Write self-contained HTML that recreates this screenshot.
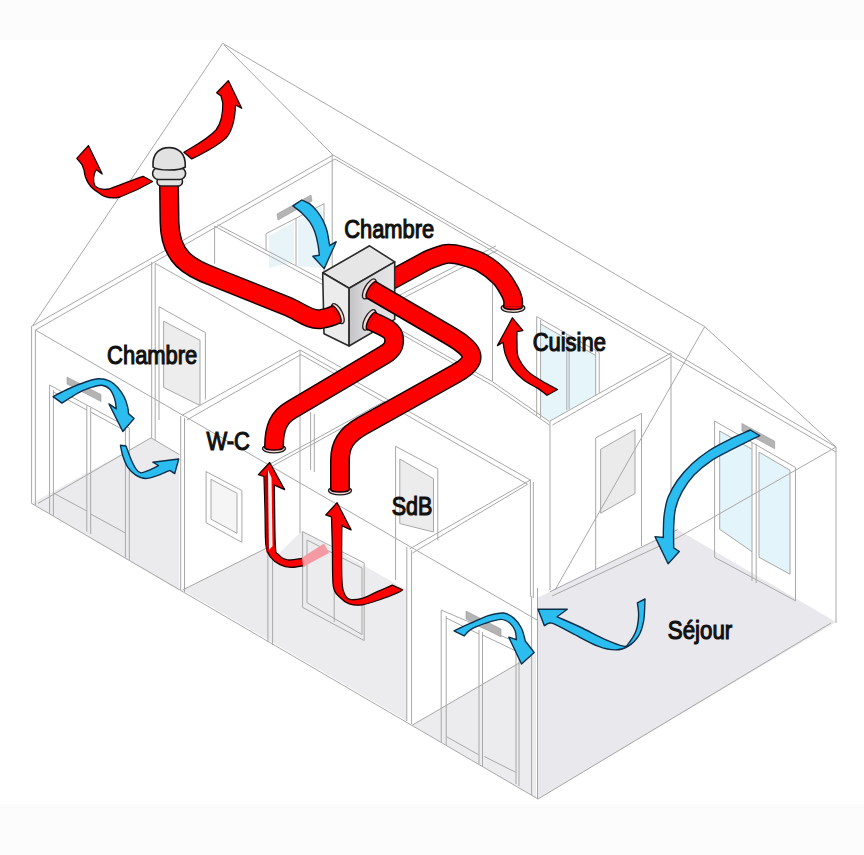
<!DOCTYPE html>
<html><head><meta charset="utf-8">
<style>
html,body{margin:0;padding:0;background:#fff;}
body{width:864px;height:855px;overflow:hidden;}
svg{display:block;}
text{font-family:"Liberation Sans",sans-serif;font-weight:normal;fill:#111;}
</style></head>
<body>
<svg width="864" height="855" viewBox="0 0 864 855">
<defs>
<linearGradient id="rf" x1="0" y1="0" x2="1" y2="0">
<stop offset="0" stop-color="#c4c4c6"/><stop offset="0.35" stop-color="#d8d8da"/><stop offset="1" stop-color="#e6e6e8"/>
</linearGradient>
</defs>
<rect x="0" y="0" width="864" height="855" fill="#ffffff"/>
<rect x="0" y="0" width="864" height="40" fill="#fcfcfc"/>
<rect x="0" y="804" width="864" height="51" fill="#fcfcfc"/>

<g stroke="none">
<path fill="#e9e8ec" d="M537.0,598.0 L549.8,591.8 L677.5,529.6 L836.0,622.0 L538.0,799.0 Z"/>
<path fill="#ebebed" d="M31.6,503.4 L151.0,437.8 L179.4,454.6 L179.4,590.8 Z"/>
<path fill="#ebebed" d="M182.6,590.0 L267.9,547.4 L272.0,549.0 L272.0,642.0 Z"/>
<path fill="#ececee" d="M272.0,560.0 L302.0,531.0 L407.0,590.0 L407.0,721.0 L272.0,642.0 Z"/>
<path fill="#ececee" d="M412.0,725.0 L520.0,662.5 L536.0,653.0 L536.0,798.0 Z"/>
<path fill="#ededee" d="M163.6,321.2 L200.0,340.2 L200.0,405.5 L163.6,387.4 Z"/>
<path fill="#ececec" d="M399.8,459.0 L433.5,478.7 L433.5,532.0 L399.8,523.6 Z"/>
<path fill="#ebebeb" d="M600.6,449.3 L635.0,429.7 L635.0,493.5 L600.6,513.2 Z"/>
<path fill="#f5f5f5" d="M211.0,479.3 L237.0,493.3 L237.0,533.3 L211.0,519.2 Z"/>
</g>
<g stroke="none">
<path fill="#e3f4fa" d="M719.7,431.0 L752.0,449.2 L752.0,551.7 L719.7,529.2 Z"/>
<path fill="#e3f4fa" d="M759.0,452.0 L790.0,470.2 L790.0,574.2 L759.0,557.3 Z"/>
<path fill="#e6f5fa" d="M540.6,324.0 L595.7,355.5 L595.7,394.7 L549.4,421.5 L540.6,415.0 Z"/>
<path fill="#e8f4f8" d="M269.0,236.0 L294.0,222.0 L294.0,262.0 L269.0,268.0 Z"/>
<path fill="#e8f4f8" d="M298.0,220.0 L322.0,206.0 L322.0,268.0 L298.0,266.0 Z"/>
</g>
<g fill="none" stroke="#a8a8a8" stroke-width="1">
<path d="M222.7,43.3 L32.5,326.0"/>
<path d="M222.7,43.3 L704.7,326.7"/>
<path d="M224.0,45.0 L333.0,155.0"/>
<path d="M704.7,326.7 L836.0,447.0"/>
<path d="M704.7,326.7 L555.0,590.0"/>
<path d="M333.0,155.0 L836.0,447.0"/>
<path d="M335.0,159.0 L836.0,452.0"/>
<path d="M32.5,326.0 L333.0,155.0"/>
<path d="M35.5,330.0 L335.0,159.0"/>
<path d="M31.6,326.0 L31.6,503.4"/>
<path d="M35.4,330.0 L35.4,505.0"/>
<path d="M31.6,503.4 L538.0,799.0"/>
<path d="M538.0,799.0 L831.0,623.0"/>
<path d="M836.0,447.0 L836.0,623.0"/>
<path d="M537.5,588.0 L537.5,799.0"/>
<path d="M531.6,596.0 L531.6,795.0"/>
<path d="M35.4,330.0 L537.0,620.0"/>
<path d="M49.6,385.0 L49.6,513.7"/>
<path d="M53.4,390.0 L53.4,516.0"/>
<path d="M86.8,405.7 L86.8,531.7"/>
<path d="M90.7,408.0 L90.7,534.0"/>
<path d="M125.4,426.0 L125.4,557.4"/>
<path d="M129.3,428.0 L129.3,560.0"/>
<path d="M49.6,385.0 L129.3,428.0"/>
<path d="M53.4,493.0 L86.8,511.0"/>
<path d="M90.7,514.0 L125.4,533.0"/>
<path d="M53.4,392.0 L86.8,410.0"/>
<path d="M90.7,412.0 L125.4,431.0"/>
<path d="M151.7,262.0 L151.7,438.0"/>
<path d="M155.2,263.4 L155.2,440.0"/>
<path d="M155.2,263.4 L341.2,367.5"/>
<path d="M38.0,503.4 L151.0,437.8"/>
<path d="M151.0,437.8 L179.4,454.6"/>
<path d="M159.0,306.7 L205.4,332.6 L205.4,399.5"/>
<path d="M159.0,306.7 L159.0,420.0"/>
<path d="M163.6,321.2 L200.0,340.2 L200.0,405.5 L163.6,387.4 L163.6,321.2"/>
<path d="M180.7,416.0 L180.7,590.0"/>
<path d="M184.5,418.0 L184.5,592.0"/>
<path d="M182.0,415.4 L300.0,350.0"/>
<path d="M186.8,420.0 L301.0,354.6"/>
<path d="M300.0,350.0 L300.0,533.0"/>
<path d="M310.6,412.0 L310.6,470.0"/>
<path d="M314.3,414.0 L314.3,472.0"/>
<path d="M206.1,471.6 L241.9,490.5 L241.9,542.4 L206.1,522.7 L206.1,471.6"/>
<path d="M211.0,479.3 L237.0,493.3 L237.0,533.3 L211.0,519.2 L211.0,479.3"/>
<path d="M267.9,466.0 L267.9,642.0"/>
<path d="M272.6,469.0 L272.6,645.0"/>
<path d="M182.6,590.0 L267.9,547.4"/>
<path d="M302.6,531.6 L364.2,563.0"/>
<path d="M302.6,531.6 L302.6,607.4"/>
<path d="M364.2,563.0 L364.2,640.5"/>
<path d="M307.0,540.0 L362.0,568.0"/>
<path d="M307.0,540.0 L307.0,602.7"/>
<path d="M362.0,568.0 L362.0,634.6"/>
<path d="M334.2,548.0 L334.2,622.0"/>
<path d="M302.6,607.4 L364.2,640.5"/>
<path d="M307.0,602.7 L362.0,634.6"/>
<path d="M406.8,547.0 L406.8,721.0"/>
<path d="M411.6,550.0 L411.6,724.0"/>
<path d="M300.0,350.0 L530.4,480.0"/>
<path d="M301.0,354.6 L527.6,484.3"/>
<path d="M530.4,480.0 L409.7,548.9"/>
<path d="M527.6,484.3 L412.5,553.0"/>
<path d="M530.4,480.0 L530.4,596.6"/>
<path d="M533.3,482.0 L533.3,598.0"/>
<path d="M270.0,464.0 L385.0,401.0"/>
<path d="M270.0,467.4 L385.0,404.4"/>
<path d="M395.6,446.3 L395.6,580.0"/>
<path d="M395.6,446.3 L437.8,468.8 L437.8,540.4"/>
<path d="M399.8,459.0 L433.5,478.7 L433.5,532.0 L399.8,523.6 L399.8,459.0"/>
<path d="M441.2,610.0 L441.2,742.5"/>
<path d="M446.2,616.0 L446.2,745.0"/>
<path d="M479.0,630.0 L479.0,764.0"/>
<path d="M482.5,632.0 L482.5,766.0"/>
<path d="M516.0,651.0 L516.0,784.0"/>
<path d="M519.0,653.0 L519.0,786.0"/>
<path d="M441.2,610.0 L520.0,643.8"/>
<path d="M446.9,736.9 L478.4,754.6"/>
<path d="M484.3,756.5 L515.8,772.3"/>
<path d="M446.2,618.0 L479.0,634.0"/>
<path d="M482.5,635.0 L516.0,651.0"/>
<path d="M412.5,725.0 L520.0,662.5"/>
<path d="M714.6,421.0 L714.6,557.3"/>
<path d="M795.5,467.4 L795.5,600.8"/>
<path d="M752.0,442.0 L752.0,581.0"/>
<path d="M756.2,444.0 L756.2,583.0"/>
<path d="M714.6,421.0 L795.5,467.4"/>
<path d="M714.6,557.3 L795.5,600.8"/>
<path d="M719.7,431.0 L752.0,449.2"/>
<path d="M719.7,431.0 L719.7,529.2"/>
<path d="M719.7,529.2 L752.0,551.7"/>
<path d="M759.0,452.0 L790.0,470.2 L790.0,574.2 L759.0,557.3 L759.0,452.0"/>
<path d="M836.0,447.0 L679.0,537.0"/>
<path d="M679.0,537.0 L552.0,596.0"/>
<path d="M671.0,353.0 L671.0,549.0"/>
<path d="M595.7,437.9 L641.5,413.3 L641.5,546.0"/>
<path d="M595.7,437.9 L595.7,568.9"/>
<path d="M600.6,449.3 L635.0,429.7 L635.0,493.5 L600.6,513.2 L600.6,449.3"/>
<path d="M549.8,591.8 L677.5,529.6"/>
<path d="M492.5,280.0 L492.5,381.0"/>
<path d="M536.7,316.6 L536.7,416.0"/>
<path d="M540.6,320.0 L540.6,418.0"/>
<path d="M566.8,334.0 L566.8,410.0"/>
<path d="M569.1,335.5 L569.1,409.0"/>
<path d="M595.7,350.0 L595.7,395.0"/>
<path d="M599.2,352.5 L599.2,393.0"/>
<path d="M536.7,316.6 L599.2,352.5"/>
<path d="M540.6,324.0 L595.7,355.5"/>
<path d="M550.0,421.0 L550.0,590.0"/>
<path d="M550.0,421.0 L671.0,353.0"/>
<path d="M552.5,425.0 L671.0,357.0"/>
<path d="M214.6,226.2 L214.6,263.7"/>
<path d="M214.6,226.2 L322.3,284.3"/>
<path d="M266.0,233.7 L266.0,250.6"/>
<path d="M324.0,203.7 L324.0,271.0"/>
<path d="M296.0,218.0 L296.0,265.5"/>
<path d="M266.0,233.7 L324.2,203.7"/>
<path d="M217.6,224.7 L322.9,280.0"/>
<path d="M402.5,331.1 L492.3,381.6 L549.4,421.5"/>
<path d="M402.5,334.8 L492.3,385.3 L549.4,425.0"/>
<path d="M360.0,316.0 L402.5,293.7 L456.7,265.6 L496.0,246.0"/>
<path d="M362.0,320.0 L406.2,296.5 L458.6,269.4 L498.0,250.0"/>
<path d="M332.2,153.8 L332.2,272.5"/>
</g>
<g fill="#b4b4b4" stroke="#9a9a9a" stroke-width="0.6">
<path d="M277.0,214.0 L311.0,195.0 L312.0,201.0 L278.0,220.0 Z"/>
<path d="M67.0,377.0 L101.0,394.5 L101.0,401.5 L67.0,384.0 Z"/>
<path d="M466.0,611.0 L501.0,629.0 L501.0,637.0 L466.0,619.0 Z"/>
<path d="M741.9,423.4 L774.7,441.2 L774.7,448.7 L741.9,431.0 Z"/>
</g>
<g fill="#2bbdf0" stroke="#0b2f4a" stroke-width="1.4" stroke-linejoin="round">
<path d="M301.8,200.0 C303.1,200.7 307.3,202.1 309.8,203.9 C312.3,205.7 314.7,208.2 316.8,210.9 C318.9,213.6 321.1,216.8 322.7,219.9 C324.3,223.1 325.7,226.5 326.7,229.8 C327.7,233.1 328.2,237.2 328.7,239.8 C329.2,242.5 329.5,244.7 329.7,245.7 L336.2,241.7 L324.2,268.6 L312.8,256.2 L319.3,255.2 C319.1,253.3 318.6,247.6 317.8,243.7 C317.1,239.8 316.1,235.5 314.8,231.8 C313.5,228.2 312.0,225.0 309.8,221.8 C307.6,218.7 304.6,215.6 301.8,212.9 C299.0,210.2 294.4,207.1 292.9,205.9 Z"/>
<path d="M53.1,396.6 C55.8,395.2 63.9,390.9 69.3,388.5 C74.7,386.1 80.6,383.6 85.5,382.0 C90.4,380.4 94.5,378.9 98.5,378.8 C102.5,378.7 106.6,379.7 109.8,381.2 C113.0,382.7 115.5,385.0 117.9,387.7 C120.3,390.4 122.8,394.2 124.4,397.4 C126.0,400.6 127.0,404.4 127.7,407.1 C128.4,409.8 128.4,412.5 128.5,413.6 L134.1,418.5 L122.8,431.5 L109.0,403.9 L116.3,408.8 C116.0,407.2 115.8,402.2 114.7,399.0 C113.6,395.8 112.0,391.6 109.8,389.3 C107.6,387.0 104.9,385.6 101.7,385.3 C98.5,385.0 94.5,386.4 90.4,387.7 C86.4,389.0 82.1,390.8 77.4,393.4 C72.7,396.0 64.6,401.5 62.0,403.1 Z"/>
<path d="M120.4,445.2 C120.8,447.0 121.6,452.1 122.8,455.8 C124.0,459.5 125.5,463.9 127.7,467.1 C129.9,470.3 132.8,473.3 135.8,475.2 C138.8,477.1 141.7,478.5 145.5,478.5 C149.3,478.5 154.4,476.6 158.5,475.2 C162.6,473.8 167.9,471.1 169.8,470.3 L174.7,473.6 L178.7,459.0 L152.8,462.2 L158.5,465.5 C156.9,466.3 151.7,469.1 148.7,470.3 C145.7,471.5 142.8,473.1 140.6,472.8 C138.4,472.5 137.4,471.0 135.8,468.7 C134.2,466.4 132.5,462.8 130.9,459.0 C129.3,455.2 126.8,448.2 126.0,446.0 Z"/>
<path d="M454.0,630.8 C456.8,629.5 464.9,625.7 470.6,623.2 C476.3,620.7 482.9,617.3 488.4,615.6 C493.9,613.9 499.5,612.6 503.7,613.0 C507.9,613.4 510.8,615.6 513.8,618.1 C516.8,620.6 519.6,624.5 521.5,628.3 C523.4,632.1 524.7,638.9 525.3,641.0 L534.2,652.5 L521.5,664.0 L508.8,637.2 L516.4,639.7 C516.2,638.2 516.2,633.5 515.1,630.8 C514.0,628.0 512.3,625.1 510.0,623.2 C507.7,621.3 505.1,619.4 501.1,619.4 C497.1,619.4 490.9,621.5 485.8,623.2 C480.7,624.9 474.2,627.5 470.6,629.6 C467.0,631.7 465.3,634.9 464.2,635.9 Z"/>
<path d="M750.3,430.0 C746.9,431.6 736.6,435.9 729.8,439.3 C722.9,442.7 715.4,446.4 709.2,450.5 C703.0,454.6 697.7,458.6 692.4,463.6 C687.1,468.6 681.4,474.9 677.4,480.5 C673.4,486.1 670.3,491.7 668.1,497.3 C665.9,502.9 665.1,508.8 664.3,514.1 C663.5,519.4 663.5,525.2 663.4,529.1 C663.2,533.0 663.4,536.1 663.4,537.5 L655.0,536.6 L668.1,563.7 L679.3,551.5 L673.7,547.8 C673.7,544.4 673.4,533.8 673.7,527.2 C674.0,520.7 674.1,514.4 675.5,508.5 C676.9,502.6 679.0,497.3 682.1,491.7 C685.2,486.1 689.4,479.9 694.2,474.8 C699.0,469.7 704.6,465.2 711.1,460.8 C717.6,456.4 725.4,452.9 733.5,448.7 C741.6,444.5 755.3,437.8 759.7,435.6 Z"/>
<path d="M645.0,599.0 C644.8,602.6 644.8,614.6 643.7,620.7 C642.6,626.9 641.2,631.7 638.6,635.9 C636.0,640.1 632.2,643.8 628.4,646.1 C624.6,648.4 620.8,649.9 615.7,649.9 C610.6,649.9 605.1,648.9 597.9,646.1 C590.7,643.4 580.0,637.2 572.4,633.4 C564.8,629.6 556.7,624.5 552.0,623.2 C547.3,621.9 545.7,625.3 544.4,625.7 L538.0,609.2 L567.3,609.2 L557.1,616.8 C560.9,618.5 572.0,623.2 580.1,627.0 C588.2,630.8 598.3,636.5 605.5,639.7 C612.7,642.9 619.5,645.5 623.3,646.1 C627.1,646.8 626.3,646.2 628.4,643.6 C630.5,641.0 634.4,635.5 636.1,630.8 C637.8,626.1 638.4,620.3 638.6,615.6 C638.8,610.9 637.6,604.9 637.4,602.8 Z"/>
</g>
<ellipse cx="513" cy="308" rx="11.8" ry="4.3" fill="#f5d8d8" stroke="#1e1e1e" stroke-width="1.3"/>
<ellipse cx="513" cy="306.5" rx="9.4" ry="3.1" fill="#fe0000" stroke="#1a0000" stroke-width="1.5"/>
<path d="M380,286 L428,260  C431.0,259.0 440.2,254.7 446.0,254.0 C451.8,253.3 457.0,254.5 463.0,256.0 C469.0,257.5 475.8,259.5 482.0,263.0 C488.2,266.5 495.3,272.2 500.0,277.0 C504.7,281.8 507.8,288.2 510.0,292.0 C512.2,295.8 512.5,297.6 513.0,300.0 C513.5,302.4 513.0,305.4 513.0,306.5" fill="none" stroke="#1a0000" stroke-width="20"/><path d="M380,286 L428,260  C431.0,259.0 440.2,254.7 446.0,254.0 C451.8,253.3 457.0,254.5 463.0,256.0 C469.0,257.5 475.8,259.5 482.0,263.0 C488.2,266.5 495.3,272.2 500.0,277.0 C504.7,281.8 507.8,288.2 510.0,292.0 C512.2,295.8 512.5,297.6 513.0,300.0 C513.5,302.4 513.0,305.4 513.0,306.5" fill="none" stroke="#fe0000" stroke-width="17"/>
<g stroke="#2a2a2a" stroke-width="1.6" stroke-linejoin="round">
<polygon points="322.7,272.8 369.6,245.8 394.7,261.9 349.1,288.2" fill="#e6e6e6"/>
<polygon points="322.7,272.8 349.1,288.2 349.1,346 324,333.8" fill="#ececec"/>
<polygon points="349.1,288.2 394.7,261.9 394.7,319.4 349.1,346" fill="url(#rf)"/>
</g>
<g fill="#f5d8d8" stroke="#1e1e1e" stroke-width="1.3">
<ellipse cx="337.8" cy="313.6" rx="4.6" ry="11" transform="rotate(-26.6 337.8 313.6)"/>
<ellipse cx="369.3" cy="288.9" rx="4.6" ry="11.2" transform="rotate(30.2 369.3 288.9)"/>
<ellipse cx="369.3" cy="319.9" rx="4.6" ry="11.2" transform="rotate(27.3 369.3 319.9)"/>
</g>
<g fill="#fe0000" stroke="#1a0000" stroke-width="1.5">
<ellipse cx="336" cy="314.5" rx="3.2" ry="9.6" transform="rotate(-26.6 336 314.5)"/>
<ellipse cx="371.5" cy="290" rx="3.2" ry="9.6" transform="rotate(30.2 371.5 290)"/>
<ellipse cx="371.5" cy="321" rx="3.2" ry="9.6" transform="rotate(27.3 371.5 321)"/>
</g>
<g fill="#f5d8d8" stroke="#1e1e1e" stroke-width="1.3">
<ellipse cx="274" cy="448.6" rx="11.5" ry="4.3"/>
<ellipse cx="340" cy="490.6" rx="11.5" ry="4.3"/>
</g>
<g fill="#fe0000" stroke="#1a0000" stroke-width="1.5">
<ellipse cx="274" cy="447" rx="9.4" ry="3.1"/>
<ellipse cx="340" cy="489" rx="9.4" ry="3.1"/>
</g>
<path d="M169,185 L169.5,222 C170,258 190,268 214,277 L289,307 C302,313 312,321 321,319 C327,318 332,316.5 336,314.5" fill="none" stroke="#1a0000" stroke-width="20"/><path d="M169,185 L169.5,222 C170,258 190,268 214,277 L289,307 C302,313 312,321 321,319 C327,318 332,316.5 336,314.5" fill="none" stroke="#fe0000" stroke-width="17"/>
<path d="M371.5,290 L447,334 C473,349 482,359 456,373.5 L362,426 C346,435 340,445 340,460 L340,489" fill="none" stroke="#1a0000" stroke-width="20"/><path d="M371.5,290 L447,334 C473,349 482,359 456,373.5 L362,426 C346,435 340,445 340,460 L340,489" fill="none" stroke="#fe0000" stroke-width="17"/>
<path d="M371.5,321 C381,326 393,329 394,338 C395,347 391,351 384,355 L291,410 C279,417 274,427 274,447" fill="none" stroke="#1a0000" stroke-width="20"/><path d="M371.5,321 C381,326 393,329 394,338 C395,347 391,351 384,355 L291,410 C279,417 274,427 274,447" fill="none" stroke="#fe0000" stroke-width="17"/>
<g stroke="#222" stroke-width="1.6" fill="#e2e2e2">
<rect x="157" y="177" width="25.5" height="9" rx="4.5"/>
<rect x="152.6" y="167.5" width="33" height="12" rx="6"/>
<path d="M153,167 C152,152 161,147.6 169,147.6 C177,147.6 186,152 185.3,167 C180,171 158,171 153,167 Z"/>
</g>
<g fill="#fe0000" stroke="#1a0000" stroke-width="1.3" stroke-linejoin="round">
<path d="M88.4,145.6 L102.2,174 L96,169.5 C93,176 93,182 95,186 C100,190 104,190 109,189 C120,185 132,180 143,176.3 L152.6,181.5 C145,186 128,194 120,197 C112,199 105,198 99,193 C90,188 85,180 84,170 L82,164.5 L76.8,158.4 Z"/>
<path d="M228.3,80.6 L241.7,108.3 L235.5,105 C235,118 233,130 226,138 C215,148 205,152 191.7,158.9 L183.9,152.2 C196,145 208,139 216,130 C222,122 223,112 222.8,103 L221,96 L216.7,92.8 Z"/>
<path d="M547.1,395.3 C545.6,394.1 541.8,390.9 537.9,388.4 C534.0,385.9 528.2,383.6 524.0,380.3 C519.8,377.0 515.5,372.9 512.4,368.7 C509.3,364.4 507.1,359.2 505.5,354.8 C503.9,350.4 503.5,344.2 503.1,342.1 L497.4,345.6 L512.4,317.8 L522.8,330.5 L517.0,331.7 C517.0,333.6 516.8,339.0 517.0,343.2 C517.2,347.4 516.5,352.5 518.2,357.1 C520.0,361.7 523.5,366.9 527.5,371.0 C531.5,375.1 537.5,378.3 542.5,381.4 C547.5,384.5 555.0,388.1 557.5,389.5 Z"/>
<path d="M392.3,585.1 C389.8,586.2 382.3,589.5 377.3,591.7 C372.3,593.9 367.1,597.0 362.4,598.3 C357.7,599.5 352.4,600.3 349.3,599.2 C346.2,598.1 344.9,595.5 343.6,591.7 C342.4,588.0 342.1,587.0 341.8,576.7 C341.5,566.4 341.7,538.3 341.8,529.9 C341.9,521.5 342.6,526.8 342.7,526.2 L351.1,529.9 L337.1,502.8 L325.8,514.9 L331.5,516.8 C331.6,522.1 332.1,537.0 332.4,548.6 C332.7,560.2 332.1,578.0 333.3,586.1 C334.6,594.2 337.2,594.3 339.9,597.3 C342.6,600.3 345.6,602.6 349.3,603.9 C353.1,605.1 357.1,605.6 362.4,604.8 C367.7,604.0 375.2,601.2 381.1,599.2 C387.0,597.2 394.3,594.2 397.9,592.6 C401.5,591.0 401.8,590.3 402.6,589.8 Z"/>
<path d="M304.3,558.0 C301.5,558.3 291.9,560.5 287.5,559.9 C283.1,559.3 280.1,556.7 278.1,554.2 C276.1,551.7 275.9,556.4 275.3,544.9 C274.7,533.4 274.5,495.0 274.3,485.0 L276.2,485.9 L284.6,489.6 L269.7,462.5 L258.4,474.7 L264.0,476.5 C264.2,482.3 264.7,499.8 265.0,511.2 C265.3,522.6 265.0,537.2 265.9,544.9 C266.8,552.5 268.2,553.8 270.6,557.1 C273.0,560.4 276.6,562.9 280.0,564.6 C283.4,566.3 287.1,567.2 291.2,567.4 C295.2,567.5 302.1,565.8 304.3,565.5 Z"/>
</g>
<path d="M264.5,477 L268,471 L269,549 L266.5,553 Z" fill="#b00000"/>
<path d="M268,470 L271.5,478 L272.5,546 L269,550 Z" fill="#fff0f0"/>
<polygon points="302,557.5 324,543.5 329,553 303,567" fill="#f59aa3"/>
<text x="344.2" y="238.1" font-size="26.5" textLength="89.9" lengthAdjust="spacingAndGlyphs" stroke="#111" stroke-width="1.2">Chambre</text>
<text x="107.1" y="363.6" font-size="26.5" textLength="90.2" lengthAdjust="spacingAndGlyphs" stroke="#111" stroke-width="1.2">Chambre</text>
<text x="532.7" y="350.7" font-size="26.5" textLength="73.2" lengthAdjust="spacingAndGlyphs" stroke="#111" stroke-width="1.2">Cuisine</text>
<text x="206.4" y="450.2" font-size="26.5" textLength="43.4" lengthAdjust="spacingAndGlyphs" stroke="#111" stroke-width="1.2">W-C</text>
<text x="391.8" y="514.9" font-size="26.5" textLength="40.6" lengthAdjust="spacingAndGlyphs" stroke="#111" stroke-width="1.2">SdB</text>
<text x="667.8" y="639.4" font-size="26.5" textLength="64.4" lengthAdjust="spacingAndGlyphs" stroke="#111" stroke-width="1.2">Séjour</text>
</svg>
</body></html>
